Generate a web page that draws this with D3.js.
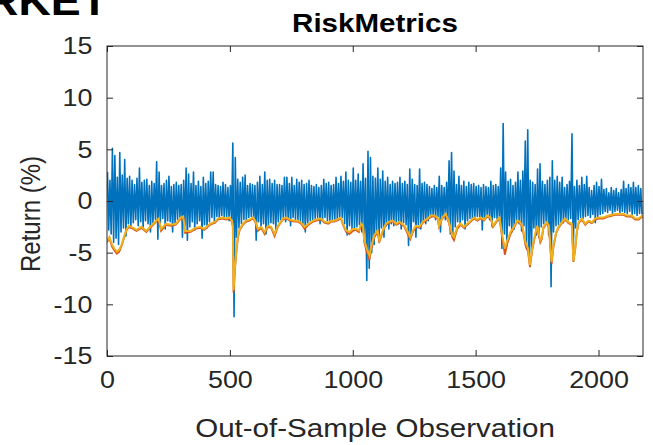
<!DOCTYPE html>
<html>
<head>
<meta charset="utf-8">
<script src="https://cdn.jsdelivr.net/npm/d3@7"></script>
<style>
body { margin: 0; background: #fff; }
svg { display: block; font-family: "Liberation Sans", Arial, sans-serif; }
</style>
</head>
<body>
<svg id="chart" width="653" height="445"></svg>
<script>
// returns, read as high / low per block of 10 observations
var binSize = 10;
var retHi = [
  2.8, 2.0, 5.1, 4.4, 2.3, 4.7, 2.5, 4.0, 2.2, 2.4,
  2.0, 1.6, 2.2, 3.2, 1.8, 2.0, 2.1, 1.5, 1.9, 1.7,
  3.8, 2.8, 1.5, 1.7, 2.0, 2.4, 1.4, 1.6, 1.8, 1.5,
  1.6, 2.0, 3.2, 2.6, 1.7, 2.8, 1.5, 1.9, 1.4, 2.3,
  1.7, 1.9, 2.8, 2.8, 1.6, 1.5, 1.4, 1.8, 1.6, 1.3,
  1.5, 5.6, 4.2, 2.1, 1.8, 2.3, 2.5, 1.5, 1.7, 1.6,
  1.5, 1.8, 2.4, 1.6, 2.8, 2.0, 2.1, 1.7, 2.0, 1.6,
  1.6, 1.5, 2.3, 2.3, 1.7, 2.3, 1.5, 2.1, 1.8, 2.0,
  1.6, 1.7, 2.0, 1.5, 1.4, 1.6, 1.3, 1.5, 2.1, 1.7,
  1.8, 1.5, 1.6, 2.3, 1.7, 2.4, 1.9, 2.8, 2.0, 1.8,
  3.2, 2.0, 2.6, 1.9, 3.6, 2.2, 4.8, 4.2, 2.4, 2.2,
  3.2, 2.1, 2.9, 1.9, 2.3, 1.6, 1.9, 1.7, 1.8, 2.3,
  1.7, 1.9, 1.6, 3.1, 2.1, 1.6, 1.5, 3.1, 1.7, 1.8,
  1.6, 1.4, 1.2, 1.5, 1.3, 2.4, 1.5, 1.3, 1.8, 3.9,
  4.7, 2.9, 1.6, 2.4, 1.5, 1.9, 1.4, 1.8, 1.6, 1.7,
  1.4, 1.5, 1.3, 1.6, 1.4, 1.3, 1.9, 1.5, 1.6, 1.4,
  3.2, 7.5, 2.8, 1.9, 2.1, 1.5, 1.8, 2.8, 2.0, 2.9,
  5.8, 6.9, 2.0, 1.8, 1.6, 3.1, 3.6, 1.9, 1.6, 2.0,
  2.3, 3.9, 2.0, 2.4, 1.8, 2.3, 1.3, 1.6, 1.9, 6.5,
  1.4, 2.0, 1.5, 2.3, 1.6, 2.4, 1.3, 1.0, 1.5, 1.8,
  1.4, 2.1, 1.1, 1.2, 0.8, 1.3, 1.0, 1.2, 0.8, 1.1,
  1.9, 1.2, 1.6, 1.3, 1.8, 1.3, 1.5, 1.2
];
var retLo = [
  -2.8, -3.2, -4.0, -3.6, -4.2, -3.0, -2.6, -3.4, -2.2, -2.6,
  -2.1, -1.8, -2.4, -2.0, -2.6, -1.9, -2.2, -3.0, -2.1, -1.8,
  -3.7, -2.1, -1.7, -2.7, -1.9, -2.0, -3.0, -2.2, -1.8, -1.6,
  -3.5, -2.4, -3.8, -2.5, -2.0, -2.8, -2.2, -1.9, -3.6, -2.3,
  -2.6, -2.0, -1.6, -2.0, -1.5, -1.7, -1.4, -1.6, -1.5, -1.9,
  -1.8, -11.2, -3.5, -2.6, -2.2, -1.8, -2.0, -1.6, -1.5, -1.7,
  -3.8, -2.0, -2.7, -2.2, -3.2, -2.4, -2.1, -2.2, -2.9, -2.0,
  -1.8, -1.6, -2.0, -1.7, -2.4, -1.6, -1.8, -1.9, -2.0, -2.2,
  -3.0, -2.1, -1.9, -1.8, -1.7, -1.6, -2.2, -1.8, -1.6, -1.9,
  -2.0, -1.8, -1.9, -1.8, -1.7, -1.6, -2.2, -3.3, -2.4, -2.7,
  -2.8, -2.5, -2.3, -3.0, -3.2, -7.7, -6.5, -5.0, -4.2, -3.2,
  -4.0, -2.6, -3.5, -2.4, -2.7, -2.2, -2.4, -2.0, -2.2, -2.7,
  -2.1, -2.3, -4.3, -3.4, -2.0, -3.5, -2.3, -2.7, -2.0, -2.2,
  -1.9, -1.6, -1.4, -1.8, -1.5, -3.0, -1.6, -1.8, -1.9, -3.2,
  -3.3, -2.5, -2.0, -2.2, -1.8, -2.7, -1.9, -1.7, -1.8, -1.6,
  -1.5, -1.6, -2.8, -1.7, -1.5, -1.8, -2.5, -1.6, -1.7, -2.0,
  -4.6, -3.2, -4.3, -2.4, -3.0, -2.7, -2.0, -2.2, -2.9, -2.4,
  -4.6, -5.6, -5.0, -2.6, -3.3, -3.5, -2.5, -2.2, -2.0, -3.3,
  -8.3, -3.0, -2.4, -2.3, -2.2, -2.1, -1.9, -1.8, -1.7, -5.0,
  -2.6, -1.8, -1.6, -1.7, -1.5, -1.4, -1.6, -1.3, -2.1, -1.5,
  -1.3, -1.2, -1.0, -1.1, -0.9, -1.2, -1.0, -0.9, -1.1, -1.0,
  -1.1, -1.2, -1.0, -1.3, -1.2, -1.4, -1.2, -1.3
];

// value-at-risk forecasts, read at these observations
var varObs = [
  0, 10, 20, 30, 40, 50, 60, 70, 80, 90, 100, 120, 140, 160, 180, 200, 210, 220, 240, 260,
  280, 300, 310, 318, 340, 360, 380, 395, 420, 440, 451, 470, 485, 499, 508, 512, 515, 520, 527, 533,
  540, 553, 566, 580, 594, 603, 614, 628, 641, 655, 668, 682, 695, 716, 729, 745, 763, 777, 790, 804,
  820, 838, 858, 871, 885, 900, 912, 925, 939, 952, 960, 973, 986, 1000, 1013, 1025, 1034, 1042, 1047, 1057,
  1068, 1074, 1088, 1101, 1108, 1122, 1135, 1149, 1163, 1177, 1190, 1210, 1224, 1234, 1245, 1257, 1271, 1285, 1305, 1318,
  1330, 1345, 1351, 1364, 1378, 1391, 1405, 1412, 1425, 1439, 1452, 1466, 1480, 1493, 1507, 1520, 1534, 1547, 1561, 1571,
  1588, 1597, 1608, 1619, 1629, 1642, 1656, 1669, 1679, 1690, 1703, 1713, 1721, 1730, 1741, 1751, 1756, 1763, 1769, 1776,
  1790, 1798, 1803, 1809, 1817, 1828, 1837, 1851, 1864, 1878, 1891, 1898, 1905, 1912, 1919, 1932, 1946, 1959, 1973, 1986,
  2000, 2020, 2041, 2068, 2088, 2102, 2115, 2135, 2149, 2163, 2176, 2180
];
var varOrange = [
  -3.9, -3.5, -4.2, -4.6, -4.9, -4.7, -4.2, -3.4, -2.7, -2.4, -2.5, -2.8, -2.5, -2.9, -2.4, -1.9, -1.7, -2.7, -2.2, -2.3,
  -2.2, -1.6, -1.5, -2.9, -2.9, -2.6, -2.5, -2.7, -2.2, -2.0, -1.7, -1.6, -1.7, -1.6, -1.9, -2.4, -8.6, -6.5, -4.6, -3.3,
  -2.7, -2.2, -1.9, -1.8, -1.6, -1.9, -2.7, -2.5, -3.0, -2.4, -2.5, -3.2, -2.4, -1.7, -1.6, -1.8, -1.9, -1.9, -2.1, -2.5,
  -2.2, -1.9, -1.75, -1.7, -2.0, -2.1, -1.9, -1.9, -1.75, -1.6, -2.2, -2.85, -3.0, -2.7, -2.7, -2.85, -2.2, -2.4, -3.8, -4.6,
  -5.3, -4.5, -3.3, -2.85, -3.8, -2.85, -2.2, -2.0, -1.9, -2.2, -2.0, -2.4, -3.0, -3.5, -2.85, -2.4, -2.5, -2.0, -1.7, -1.4,
  -1.4, -1.6, -2.4, -1.6, -1.25, -2.0, -3.3, -3.5, -2.5, -2.2, -2.5, -2.2, -1.9, -1.6, -1.8, -1.6, -1.8, -1.4, -1.6, -2.4,
  -1.8, -1.6, -3.3, -4.6, -3.8, -3.0, -2.5, -1.9, -2.0, -2.4, -4.0, -4.6, -6.2, -4.6, -3.3, -2.4, -3.0, -3.8, -3.5, -2.5,
  -2.05, -2.4, -4.0, -5.9, -4.2, -3.0, -2.5, -2.05, -1.7, -2.05, -2.2, -5.8, -4.6, -2.85, -2.05, -1.7, -2.2, -1.9, -2.05, -1.7,
  -1.6, -1.6, -1.4, -1.25, -1.25, -1.25, -1.4, -1.4, -1.7, -1.7, -1.45, -1.5
];
var varRed = [
  -4.0, -3.6, -4.4, -4.8, -5.1, -4.9, -4.3, -3.5, -2.8, -2.5, -2.6, -2.9, -2.6, -3.0, -2.5, -2.0, -1.8, -2.9, -2.3, -2.4,
  -2.3, -1.7, -1.6, -3.1, -3.0, -2.7, -2.6, -2.8, -2.3, -2.1, -1.8, -1.7, -1.8, -1.7, -2.0, -2.5, -8.9, -6.8, -4.8, -3.5,
  -2.8, -2.3, -2.0, -1.9, -1.7, -2.0, -2.9, -2.6, -3.2, -2.5, -2.6, -3.4, -2.5, -1.8, -1.7, -1.9, -2.0, -2.0, -2.2, -2.7,
  -2.3, -2.0, -1.85, -1.8, -2.1, -2.2, -2.0, -2.0, -1.85, -1.7, -2.3, -3.0, -3.2, -2.9, -2.8, -3.0, -2.3, -2.5, -4.0, -4.9,
  -5.7, -4.8, -3.5, -3.0, -4.0, -3.0, -2.3, -2.1, -2.0, -2.3, -2.1, -2.5, -3.2, -3.7, -3.0, -2.5, -2.6, -2.1, -1.8, -1.5,
  -1.5, -1.7, -2.5, -1.7, -1.35, -2.1, -3.5, -3.8, -2.7, -2.3, -2.6, -2.3, -2.0, -1.7, -1.9, -1.7, -1.9, -1.5, -1.7, -2.5,
  -1.9, -1.7, -3.5, -5.2, -4.1, -3.2, -2.6, -2.0, -2.1, -2.5, -4.3, -4.9, -6.4, -4.8, -3.5, -2.5, -3.2, -4.0, -3.7, -2.6,
  -2.15, -2.5, -4.2, -6.1, -4.4, -3.1, -2.6, -2.15, -1.8, -2.15, -2.3, -5.9, -4.7, -3.0, -2.15, -1.8, -2.3, -2.0, -2.15, -1.8,
  -1.7, -1.7, -1.5, -1.35, -1.35, -1.35, -1.5, -1.5, -1.8, -1.8, -1.55, -1.6
];

var xTicks = [0, 500, 1000, 1500, 2000];
var yTicks = [-15, -10, -5, 0, 5, 10, 15];
var titleText = 'RiskMetrics';
var xLabel = 'Out-of-Sample Observation';
var yLabel = 'Return (%)';
var cornerText = 'RKET';

var svg = d3.select('#chart');
var borders = { left: 107, right: 10, top: 46, bottom: 89 };
var svgWidth = 653;
var svgHeight = 445;
var innerWidth = svgWidth - borders.left - borders.right;
var innerHeight = svgHeight - borders.top - borders.bottom;
var axisColor = '#262626';
var stretch = 1.12; // the exported figure is a little wider than tall
var tickFont = 24;
var labelFont = 26.4;

var xScale = d3.scaleLinear()
  .domain([0, 2181])
  .range([0, innerWidth]);

var yScale = d3.scaleLinear()
  .domain([-15, 15])
  .range([innerHeight, 0]);

var g = svg.append('g')
  .attr('transform', 'translate(' + borders.left + ',' + borders.top + ')');

g.append('clipPath')
  .attr('id', 'clip')
  .append('rect')
  .attr('width', innerWidth)
  .attr('height', innerHeight);

// returns: zigzag through each block's high and low
var retPoints = [];
for (var k = 0; k < retHi.length; k++) {
  retPoints.push({ x: k * binSize + 2, y: retHi[k] });
  retPoints.push({ x: k * binSize + 7, y: retLo[k] });
}

var line = d3.line()
  .x(function (d) { return xScale(d.x); })
  .y(function (d) { return yScale(d.y); });

var plot = g.append('g').attr('clip-path', 'url(#clip)');

plot.append('path')
  .datum(retPoints)
  .attr('fill', 'none')
  .attr('stroke', '#0072BD')
  .attr('stroke-width', 1.6)
  .attr('stroke-linejoin', 'round')
  .attr('d', line);

var redPoints = varObs.map(function (o, i) { return { x: o, y: varRed[i] }; });
var orangePoints = varObs.map(function (o, i) { return { x: o, y: varOrange[i] }; });

plot.append('path')
  .datum(redPoints)
  .attr('fill', 'none')
  .attr('stroke', '#D95319')
  .attr('stroke-width', 1.8)
  .attr('d', line);

plot.append('path')
  .datum(orangePoints)
  .attr('fill', 'none')
  .attr('stroke', '#EDB120')
  .attr('stroke-width', 2)
  .attr('d', line);

// axes, ticks pointing inward as in MATLAB
var xAxis = d3.axisBottom(xScale).tickValues(xTicks).tickSize(-6).tickPadding(15)
  .tickFormat(d3.format('d'));
var yAxis = d3.axisLeft(yScale).tickValues(yTicks).tickSize(-6).tickPadding(13)
  .tickFormat(function (d) { return String(d); });
var xTop = d3.axisTop(xScale).tickValues(xTicks).tickSize(-6).tickFormat('');
var yRight = d3.axisRight(yScale).tickValues(yTicks).tickSize(-6).tickFormat('');

g.append('g').attr('transform', 'translate(0,' + innerHeight + ')').call(xAxis);
g.append('g').call(yAxis);
g.append('g').call(xTop);
g.append('g').attr('transform', 'translate(' + innerWidth + ',0)').call(yRight);

g.selectAll('.domain').remove();
g.selectAll('.tick line').attr('stroke', axisColor).attr('stroke-width', 1);
g.selectAll('.tick text')
  .attr('fill', axisColor)
  .attr('transform', 'scale(' + stretch + ',1)')
  .style('font-size', tickFont + 'px')
  .style('font-family', '"Liberation Sans", Arial, sans-serif');

g.append('rect')
  .attr('width', innerWidth)
  .attr('height', innerHeight)
  .attr('fill', 'none')
  .attr('stroke', axisColor)
  .attr('stroke-width', 1);

// title and labels
svg.append('text')
  .attr('transform', 'translate(' + (borders.left + innerWidth / 2) + ',32) scale(' + stretch + ',1)')
  .attr('text-anchor', 'middle')
  .attr('font-weight', 'bold')
  .attr('font-size', labelFont)
  .attr('fill', '#000')
  .text(titleText);

svg.append('text')
  .attr('transform', 'translate(' + (borders.left + innerWidth / 2) + ',437) scale(' + stretch + ',1)')
  .attr('text-anchor', 'middle')
  .attr('font-size', labelFont)
  .attr('fill', axisColor)
  .text(xLabel);

svg.append('text')
  .attr('transform', 'translate(40,214) scale(' + stretch + ',1) rotate(-90)')
  .attr('text-anchor', 'middle')
  .attr('font-size', 24)
  .attr('fill', axisColor)
  .text(yLabel);

svg.append('text')
  .attr('transform', 'translate(108,15) scale(' + stretch + ',1)')
  .attr('text-anchor', 'end')
  .attr('font-weight', 'bold')
  .attr('font-size', 40)
  .attr('fill', '#000')
  .text(cornerText);
</script>
</body>
</html>
